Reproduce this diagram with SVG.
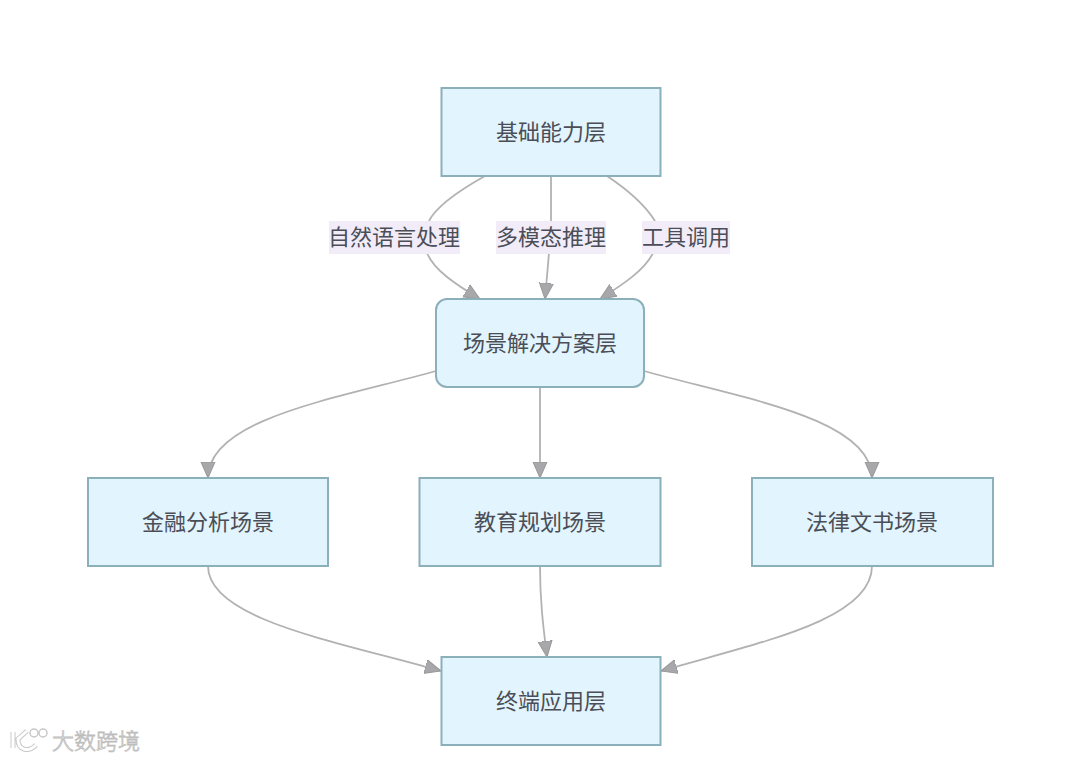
<svg xmlns="http://www.w3.org/2000/svg" width="1080" height="760" viewBox="0 0 1080 760">
<style>
text{font-family:"Noto Sans CJK SC","Liberation Sans",sans-serif;font-size:22px;fill:#4b4e57;text-anchor:middle;dominant-baseline:central}
.n{fill:#e2f4fd;stroke:#8cb0ba;stroke-width:2}
.e{fill:none;stroke:#b2b2b2;stroke-width:1.800;marker-end:url(#a)}
.e2{fill:none;stroke:#b2b2b2;stroke-width:1.800}
.l{fill:#f2ecf9}
.w{font-size:22px;font-weight:300;fill:#fff;stroke:#bdbdbd;stroke-width:.8;text-anchor:start}
</style>
<defs><marker id="a" markerUnits="userSpaceOnUse" markerWidth="18" markerHeight="18" refX="16" refY="8" orient="auto"><path d="M0 1L16 8L0 15Z" fill="#a8a8aa" stroke="#98989a"/></marker></defs>
<rect width="1080" height="760" fill="#fff"/>
<g id="connectors">
<path class="e2" d="M485 176C460 190 437 205 429 221"/>
<path class="e" d="M427 253C434 270 455 284 480 299"/>
<path class="e2" d="M551 176V221"/>
<path class="e" d="M549 253L545 299"/>
<path class="e2" d="M607 176C625 188 645 205 655 221"/>
<path class="e" d="M653 253C645 270 622 285 600 299"/>
<path class="e" d="M436 371C340 398 208 418 208 478"/>
<path class="e" d="M540 387V478"/>
<path class="e" d="M644 371C740 398 872 418 872 478"/>
<path class="e" d="M208 566C208 620 340 642 441 671"/>
<path class="e" d="M540 566C540 600 543 625 547 657"/>
<path class="e" d="M872 566C872 620 760 642 661 671"/>
</g>
<g id="n1"><rect class="n" x="441.500" y="88" width="219" height="88"/><text x="551" y="130">基础能力层</text></g>
<g id="n2"><rect class="n" x="436" y="299" width="208" height="88" rx="11"/><text x="540" y="341">场景解决方案层</text></g>
<g id="n3"><rect class="n" x="88" y="478" width="240" height="88"/><text x="208" y="520">金融分析场景</text></g>
<g id="n4"><rect class="n" x="419.500" y="478" width="241" height="88"/><text x="540" y="520">教育规划场景</text></g>
<g id="n5"><rect class="n" x="752" y="478" width="241" height="88"/><text x="872" y="520">法律文书场景</text></g>
<g id="n6"><rect class="n" x="441.500" y="657" width="219" height="88"/><text x="551" y="699">终端应用层</text></g>
<g id="labels">
<rect class="l" x="329" y="221" width="131" height="33"/><text x="394" y="235">自然语言处理</text>
<rect class="l" x="496" y="221" width="110" height="33"/><text x="551" y="235">多模态推理</text>
<rect class="l" x="642" y="221" width="88" height="33"/><text x="686" y="235">工具调用</text>
</g>
<g id="watermark">
<path d="M13 732V748M27 731L18 739C18 750 28 753 36 745" fill="none" stroke="#c8c8c8" stroke-width="5"/>
<path d="M13 732V748M27 731L18 739C18 750 28 753 36 745" fill="none" stroke="#fff" stroke-width="3"/>
<circle cx="34" cy="733" r="4" fill="#fff" stroke="#c8c8c8" stroke-width="1.500"/>
<circle cx="43" cy="733" r="4" fill="#fff" stroke="#c8c8c8" stroke-width="1.500"/>
<text class="w" x="52" y="739">大数跨境</text>
</g>
</svg>
